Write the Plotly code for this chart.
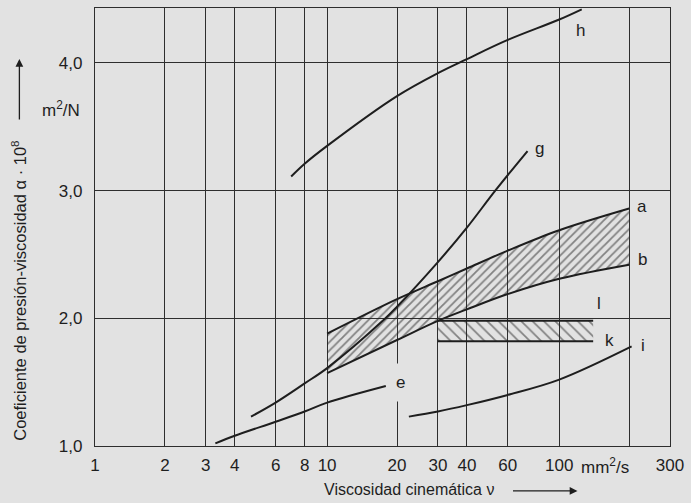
import numpy as np
import plotly.graph_objects as go

# Kinematic viscosity (mm²/s) and pressure-viscosity coefficient (alpha · 10^8, m²/N)
a_visc = [10, 20, 30, 40, 60, 100, 200]
a_alpha = [1.88, 2.15, 2.29, 2.39, 2.53, 2.69, 2.86]

b_visc = [10, 20, 30, 40, 60, 100, 200]
b_alpha = [1.57, 1.83, 1.98, 2.07, 2.19, 2.31, 2.42]

e_visc = [3.3, 4, 6, 8, 10, 17.9]
e_alpha = [1.02, 1.08, 1.19, 1.27, 1.34, 1.47]

g_visc = [4.7, 6, 8, 10, 17.6, 20, 30, 40, 53, 73]
g_alpha = [1.23, 1.34, 1.49, 1.61, 1.99, 2.09, 2.44, 2.71, 3.00, 3.31]

h_visc = [7.0, 8, 10, 20, 30, 40, 60, 100, 125]
h_alpha = [3.11, 3.21, 3.35, 3.74, 3.92, 4.03, 4.18, 4.34, 4.42]

i_visc = [22.5, 30, 40, 60, 100, 205]
i_alpha = [1.23, 1.27, 1.32, 1.40, 1.52, 1.78]

kl_visc = [30, 140]
l_alpha = 1.98
k_alpha = 1.82

x_ticks = [1, 2, 3, 4, 6, 8, 10, 20, 30, 40, 60, 100, 200, 300]
x_ticktext = ["1", "2", "3", "4", "6", "8", "10", "20", "30", "40", "60", "100", "", "300"]
y_ticks = [1, 2, 3, 4]
y_ticktext = ["1,0", "2,0", "3,0", "4,0"]

BG = "#e2e2e2"
INK = "#1e1e1e"
GRID = "#2e2e2e"
FONT = "Liberation Sans, Arial, sans-serif"
FS = 17

fig = go.Figure()

# hatched band between curves a and b
fig.add_trace(go.Scatter(
    x=a_visc + b_visc[::-1], y=a_alpha + b_alpha[::-1],
    mode="lines", fill="toself", line=dict(width=0),
    fillcolor="rgba(0,0,0,0)",
    fillpattern=dict(shape="/", size=6, solidity=0.3, fgcolor="#222222", bgcolor="rgba(0,0,0,0)"),
    hoverinfo="skip"))

# hatched bar between l and k
fig.add_trace(go.Scatter(
    x=[kl_visc[0], kl_visc[1], kl_visc[1], kl_visc[0]],
    y=[l_alpha, l_alpha, k_alpha, k_alpha],
    mode="lines", fill="toself", line=dict(width=0),
    fillcolor="rgba(0,0,0,0)",
    fillpattern=dict(shape="\\", size=8, solidity=0.22, fgcolor="#222222", bgcolor="rgba(0,0,0,0)"),
    hoverinfo="skip"))

curve_line = dict(color=INK, width=2, shape="spline", smoothing=1.0)
for xs, ys in [(a_visc, a_alpha), (b_visc, b_alpha), (e_visc, e_alpha),
               (g_visc, g_alpha), (h_visc, h_alpha), (i_visc, i_alpha)]:
    fig.add_trace(go.Scatter(x=xs, y=ys, mode="lines", line=curve_line, hoverinfo="skip"))

for level in (l_alpha, k_alpha):
    fig.add_trace(go.Scatter(x=kl_visc, y=[level, level], mode="lines",
                             line=dict(color=INK, width=2), hoverinfo="skip"))

# curve labels
labels = [("h", 123, 4.25), ("g", 82, 3.33), ("a", 227, 2.876), ("b", 229, 2.457),
          ("l", 148, 2.116), ("k", 164, 1.823), ("i", 229, 1.79)]
annotations = []
for txt, xv, yv in labels:
    annotations.append(dict(x=np.log10(xv), y=yv, xref="x", yref="y", text=txt,
                            xanchor="center", yanchor="middle",
                            showarrow=False, font=dict(size=FS, color=INK, family=FONT)))
annotations.append(dict(x=np.log10(20.8), y=1.5, xref="x", yref="y", text="e",
                        xanchor="center", yanchor="middle",
                        showarrow=False, bgcolor=BG, borderpad=9,
                        font=dict(size=FS, color=INK, family=FONT)))

# unit label on the x axis
annotations.append(dict(x=np.log10(200), y=0, xref="x", yref="paper",
                        xanchor="center", yanchor="top",
                        xshift=-24, yshift=-7, text="mm<sup>2</sup>/s", showarrow=False,
                        font=dict(size=FS, color=INK, family=FONT)))
# x axis title and arrow
annotations.append(dict(x=(411 - 95) / 578, y=(446 - 490) / 439, xref="paper", yref="paper",
                        xanchor="center", yanchor="middle",
                        text="Viscosidad cinemática ν", showarrow=False,
                        font=dict(size=16, color=INK, family=FONT)))
annotations.append(dict(x=(580 - 95) / 578, y=(446 - 491) / 439, xref="paper", yref="paper",
                        text="", showarrow=True, ax=-66, ay=0, arrowhead=2, arrowsize=1.2,
                        arrowwidth=1.3, arrowcolor=INK))
# y axis title, unit and arrow
annotations.append(dict(x=(19 - 95) / 578, y=(446 - 290) / 439, xref="paper", yref="paper",
                        xanchor="center", yanchor="middle",
                        text="Coeficiente de presión-viscosidad α · 10<sup>8</sup>",
                        textangle=-90, showarrow=False,
                        font=dict(size=16.5, color=INK, family=FONT)))
annotations.append(dict(x=(19 - 95) / 578, y=(446 - 58) / 439, xref="paper", yref="paper",
                        text="", showarrow=True, ax=0, ay=62, arrowhead=2, arrowsize=1.2,
                        arrowwidth=1.3, arrowcolor=INK))
annotations.append(dict(x=(61 - 95) / 578, y=(446 - 108) / 439, xref="paper", yref="paper",
                        xanchor="center", yanchor="middle",
                        text="m<sup>2</sup>/N", showarrow=False,
                        font=dict(size=FS, color=INK, family=FONT)))

fig.update_layout(
    width=691, height=503,
    margin=dict(l=95, r=18, t=7, b=57),
    paper_bgcolor=BG, plot_bgcolor=BG,
    showlegend=False,
    font=dict(family=FONT, size=FS, color=INK),
    annotations=annotations,
    xaxis=dict(type="log", range=[0, np.log10(300)], tickvals=x_ticks, ticktext=x_ticktext,
               showgrid=True, gridcolor=GRID, gridwidth=1, showline=True, linecolor=GRID,
               linewidth=1.2, mirror=True, ticks="", zeroline=False, ticklabelstandoff=3,
               tickfont=dict(size=FS)),
    yaxis=dict(range=[1.0, 4.43], tickvals=y_ticks, ticktext=y_ticktext,
               showgrid=True, gridcolor=GRID, gridwidth=1, showline=True, linecolor=GRID,
               linewidth=1.2, mirror=True, ticks="", zeroline=False, ticklabelstandoff=8,
               tickfont=dict(size=FS)),
)

fig.write_html("out.html")
